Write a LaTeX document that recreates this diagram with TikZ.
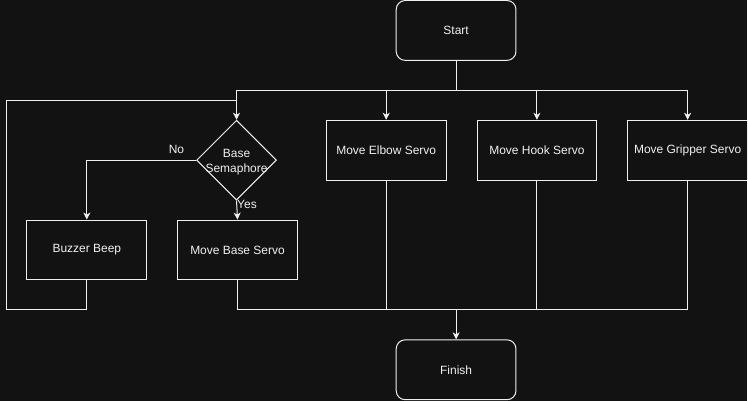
\documentclass[tikz,border=0pt]{standalone}
\usepackage{fontspec}
\setmainfont{Liberation Sans}
\usetikzlibrary{arrows.meta,shapes.geometric,positioning}
\definecolor{bgdark}{RGB}{18,18,18}
\definecolor{linewhite}{RGB}{240,240,240}
\begin{document}
\begin{tikzpicture}[x=1pt,y=-1pt,
            line width=1pt,draw=linewhite,
            font=\fontsize{12}{15}\selectfont,
            every node/.style={text=linewhite},
            flow/.style={-{Stealth[length=7pt,width=7pt,inset=2pt]}},
            step box/.style={rectangle,draw=linewhite,fill=bgdark,minimum width=120pt,minimum height=60pt},
            term box/.style={step box,rounded corners=9pt},
            decision/.style={diamond,draw=linewhite,fill=bgdark,minimum width=80pt,minimum height=80pt,inner sep=0pt}]

        % Background
        \fill[bgdark] (0,0) rectangle (748,401);

        % Define nodes
        \node[term box] (start) at (457,30) {Start};
        \node[decision] (sema) at (237,160) {};
        \node[align=center] (semalabel) at (237,161.5) {Base\\Semaphore};
        \node[step box] (elbow) at (387,150) {Move Elbow Servo};
        \node[step box] (hook) [right=30pt of elbow] {Move Hook Servo};
        \node[step box] (gripper) [right=30pt of hook] {Move Gripper Servo};
        \node[step box] (buzzer) at (87,250) {Buzzer Beep};
        \node[step box] (base) [right=30pt of buzzer] {Move Base Servo};
        \node[term box] (finish) at (457,370) {Finish};

        % Join points
        \coordinate (split) at (457,90);
        \coordinate (loopbot) at (7,310);
        \coordinate (loopjoin) at (237,100);
        \coordinate (merge) at (457,310);

        % Draw edges
        \draw (start.south) -- (split);
        \draw[flow] (split) -| (sema.north);
        \draw[flow] (split) -| (elbow.north);
        \draw[flow] (split) -| (hook.north);
        \draw[flow] (split) -| (gripper.north);
        \draw[flow] (sema.west) -| node[pos=0.09,above=3pt] {No} (buzzer.north);
        \draw[flow] (sema.south) -- node[pos=0.2,anchor=west,inner sep=0pt] {Yes} (base.north);
        \draw (buzzer.south) |- (loopbot) |- (loopjoin);
        \draw (base.south) |- (merge);
        \draw (elbow.south) |- (merge);
        \draw (hook.south) |- (merge);
        \draw (gripper.south) |- (merge);
        \draw[flow] (merge) -- (finish.north);

        \end{tikzpicture}
\end{document}
